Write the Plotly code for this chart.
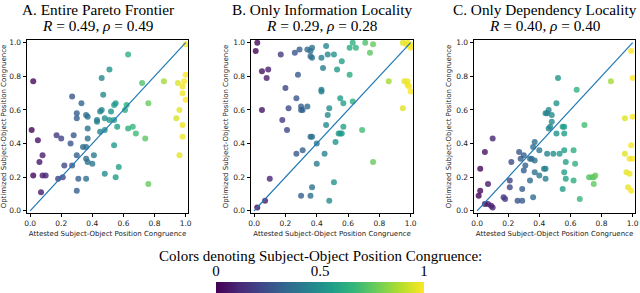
import numpy as np
import plotly.graph_objects as go

# ---------------- data ----------------
A_x = [1.0, 0.02, 0.63, 0.51, 0.46, 0.72, 0.86, 0.95, 1.0, 0.99, 0.98, 0.98, 1.0, 0.27, 0.33, 0.47,
       0.30, 0.30, 0.36, 0.37, 0.55, 0.54, 0.62, 0.61, 0.52, 0.46, 0.45, 0.76, 0.96, 0.94, 0.98, 0.98,
       0.96, 0.01, 0.05, 0.17, 0.20, 0.28, 0.37, 0.37, 0.26, 0.34, 0.36, 0.43, 0.43, 0.48, 0.51, 0.54,
       0.45, 0.48, 0.56, 0.63, 0.66, 0.68, 0.74, 0.54, 0.08, 0.06, 0.30, 0.36, 0.37, 0.40, 0.41, 0.22,
       0.27, 0.02, 0.08, 0.10, 0.18, 0.21, 0.31, 0.36, 0.48, 0.57, 0.55, 0.07, 0.30, 0.76]
A_y = [0.99, 0.77, 0.93, 0.84, 0.79, 0.76, 0.77, 0.76, 0.81, 0.77, 0.74, 0.70, 0.66, 0.68, 0.64, 0.69,
       0.58, 0.55, 0.57, 0.56, 0.64, 0.63, 0.63, 0.60, 0.59, 0.60, 0.59, 0.64, 0.60, 0.55, 0.51, 0.44,
       0.33, 0.48, 0.42, 0.45, 0.43, 0.45, 0.49, 0.43, 0.40, 0.38, 0.38, 0.54, 0.53, 0.55, 0.54, 0.54,
       0.47, 0.48, 0.50, 0.49, 0.50, 0.46, 0.43, 0.39, 0.33, 0.29, 0.33, 0.31, 0.29, 0.28, 0.33, 0.27,
       0.27, 0.21, 0.21, 0.21, 0.19, 0.20, 0.19, 0.19, 0.22, 0.26, 0.20, 0.11, 0.12, 0.16]

B_x = [0.02, 0.01, 0.17, 0.26, 0.29, 0.34, 0.36, 0.37, 0.36, 0.37, 0.46, 0.47, 0.43, 0.51, 0.56, 0.61,
       0.63, 0.65, 0.71, 0.74, 0.76, 0.95, 0.97, 0.98, 0.99, 1.0, 1.0, 0.96, 0.98, 0.98, 0.99, 1.0,
       0.95, 0.86, 0.05, 0.09, 0.08, 0.05, 0.20, 0.28, 0.27, 0.22, 0.18, 0.21, 0.30, 0.31, 0.30, 0.34,
       0.43, 0.43, 0.44, 0.53, 0.61, 0.48, 0.47, 0.46, 0.55, 0.57, 0.63, 0.57, 0.55, 0.56, 0.54, 0.69,
       0.52, 0.36, 0.37, 0.40, 0.27, 0.31, 0.45, 0.40, 0.76, 0.10, 0.51, 0.37, 0.30, 0.36, 0.48, 0.07,
       0.02]
B_y = [1.0, 0.95, 0.93, 0.94, 0.96, 0.96, 0.95, 0.97, 0.92, 0.91, 0.98, 0.93, 0.91, 0.93, 0.89, 0.97,
       1.0, 0.97, 1.0, 0.94, 0.99, 1.0, 0.99, 1.0, 0.98, 0.99, 0.97, 0.77, 0.77, 0.75, 0.74, 0.71,
       0.61, 0.77, 0.83, 0.84, 0.79, 0.60, 0.73, 0.81, 0.67, 0.61, 0.54, 0.48, 0.62, 0.60, 0.60, 0.62,
       0.72, 0.71, 0.85, 0.84, 0.81, 0.61, 0.57, 0.51, 0.67, 0.64, 0.65, 0.50, 0.46, 0.46, 0.46, 0.48,
       0.41, 0.44, 0.44, 0.40, 0.34, 0.36, 0.34, 0.28, 0.29, 0.19, 0.17, 0.14, 0.09, 0.09, 0.06, 0.06,
       0.02]

C_x = [0.99, 1.0, 0.86, 0.52, 0.64, 0.51, 0.46, 0.45, 0.48, 0.44, 0.48, 0.47, 0.46, 0.55, 0.56, 0.51,
       0.56, 0.69, 0.95, 1.0, 0.05, 0.10, 0.02, 0.02, 0.01, 0.07, 0.05, 0.07, 0.09, 0.10, 0.17, 0.18,
       0.22, 0.21, 0.21, 0.27, 0.28, 0.30, 0.31, 0.30, 0.37, 0.36, 0.34, 0.35, 0.37, 0.40, 0.37, 0.40,
       0.43, 0.44, 0.44, 0.34, 0.29, 0.26, 0.29, 0.36, 0.45, 0.49, 0.53, 0.56, 0.62, 0.57, 0.63, 0.56,
       0.57, 0.55, 0.62, 0.66, 0.72, 0.74, 0.75, 0.76, 0.75, 0.95, 0.99, 1.0, 0.98, 0.96, 0.98, 0.97,
       0.99]
C_y = [0.95, 0.79, 0.77, 0.79, 0.72, 0.64, 0.60, 0.58, 0.57, 0.58, 0.53, 0.50, 0.49, 0.50, 0.50, 0.46,
       0.46, 0.51, 0.55, 0.56, 0.35, 0.43, 0.25, 0.12, 0.09, 0.16, 0.04, 0.04, 0.03, 0.02, 0.08, 0.07,
       0.29, 0.18, 0.14, 0.35, 0.31, 0.33, 0.27, 0.24, 0.41, 0.38, 0.31, 0.31, 0.30, 0.36, 0.23, 0.21,
       0.25, 0.25, 0.19, 0.18, 0.13, 0.06, 0.06, 0.08, 0.34, 0.34, 0.34, 0.36, 0.36, 0.29, 0.28, 0.23,
       0.19, 0.13, 0.18, 0.07, 0.20, 0.20, 0.20, 0.21, 0.16, 0.34, 0.39, 0.31, 0.31, 0.23, 0.22, 0.14,
       0.12]

DIAG = [0, 1]
TITLES = ["A. Entire Pareto Frontier", "B. Only Information Locality", "C. Only Dependency Locality"]
STATS = [(0.49, 0.49), (0.29, 0.28), (0.40, 0.40)]
AXIS_TICKS = [0.0, 0.2, 0.4, 0.6, 0.8, 1.0]
X_LABEL = "Attested Subject-Object Position Congruence"
Y_LABEL = "Optimized Subject-Object Position Congruence"
CB_TITLE = "Colors denoting Subject-Object Position Congruence:"
CB_TICKS = [0, 0.5, 1]
CB_TICKTEXT = ["0", "0.5", "1"]

# ---------------- layout helpers ----------------
W, H = 640, 293
SERIF = "Liberation Serif"
SANS = "DejaVu Sans"
boxes = [(27, 188), (251, 413), (474, 635)]   # pixel extents of panel frames
top_px, bot_px = 40, 213

fig = go.Figure()
panels = [(A_x, A_y), (B_x, B_y), (C_x, C_y)]
for i, (xs, ys) in enumerate(panels):
    n = "" if i == 0 else str(i + 1)
    fig.add_trace(go.Scatter(
        x=xs, y=ys, mode="markers", xaxis="x" + n, yaxis="y" + n, showlegend=False,
        marker=dict(color=xs, colorscale="Viridis", cmin=0, cmax=1, size=6, opacity=0.8,
                    line=dict(width=0)),
        hoverinfo="skip"))
    fig.add_trace(go.Scatter(
        x=DIAG, y=DIAG, mode="lines", xaxis="x" + n, yaxis="y" + n, showlegend=False,
        line=dict(color="#1f77b4", width=1.2), hoverinfo="skip"))

# colour bar strip as a heatmap on its own axis
cb_vals = np.linspace(0, 1, 256)
fig.add_trace(go.Heatmap(x=cb_vals, y=[0], z=[cb_vals], colorscale="Viridis", zmin=0, zmax=1,
                         showscale=False, xaxis="x4", yaxis="y4", hoverinfo="skip"))

axis_common = dict(showline=True, linecolor="black", linewidth=0.8, mirror=True,
                   ticks="outside", ticklen=3.5, tickwidth=0.8, tickcolor="black",
                   showgrid=False, zeroline=False, tickvals=AXIS_TICKS, tickformat=".1f",
                   tickfont=dict(family=SANS, size=7.5, color="#222"),
                   automargin=False)
layout = dict(width=W, height=H, margin=dict(l=0, r=0, t=0, b=0),
              paper_bgcolor="white", plot_bgcolor="white")
ydom = [(H - bot_px) / H, (H - top_px) / H]
annotations = []
for i, (l, r) in enumerate(boxes):
    n = "" if i == 0 else str(i + 1)
    layout["xaxis" + n] = dict(axis_common, domain=[l / W, r / W], range=[-0.02, 1.015],
                               anchor="y" + n,
                               title=dict(text=X_LABEL, font=dict(family=SANS, size=7, color="#222"),
                                          standoff=3))
    layout["yaxis" + n] = dict(axis_common, domain=ydom, range=[-0.013, 1.016], anchor="x" + n,
                               title=dict(text=Y_LABEL, font=dict(family=SANS, size=7, color="#222"),
                                          standoff=3))
    cx = ((l + r) / 2 - 10) / W
    annotations.append(dict(text=TITLES[i], x=cx, y=1 - 9 / H, xref="paper", yref="paper",
                            xanchor="center", yanchor="middle", showarrow=False,
                            font=dict(family=SERIF, size=15.3, color="black")))
    R, rho = STATS[i]
    annotations.append(dict(text=f"<i>R</i> = {R:.2f}, <i>ρ</i> = {rho:.2f}", x=cx, y=1 - 25 / H,
                            xref="paper", yref="paper", xanchor="center", yanchor="middle",
                            showarrow=False, font=dict(family=SERIF, size=15.3, color="black")))

layout["xaxis4"] = dict(domain=[216 / W, 424 / W], range=[0, 1], anchor="y4", side="top",
                        tickvals=CB_TICKS, ticktext=CB_TICKTEXT, ticks="", showline=False,
                        showgrid=False, zeroline=False, ticklabelstandoff=2,
                        tickfont=dict(family=SERIF, size=15, color="black"), automargin=False)
layout["yaxis4"] = dict(domain=[0, 11 / H], visible=False, range=[-0.5, 0.5])
annotations.append(dict(text=CB_TITLE, x=320 / W, y=1 - 256 / H, xref="paper", yref="paper",
                        xanchor="center", yanchor="middle", showarrow=False,
                        font=dict(family=SERIF, size=15, color="black")))
layout["annotations"] = annotations
fig.update_layout(**layout)
fig.write_html("out.html", config={"displayModeBar": False},
               post_script="document.body.style.margin='0';")
